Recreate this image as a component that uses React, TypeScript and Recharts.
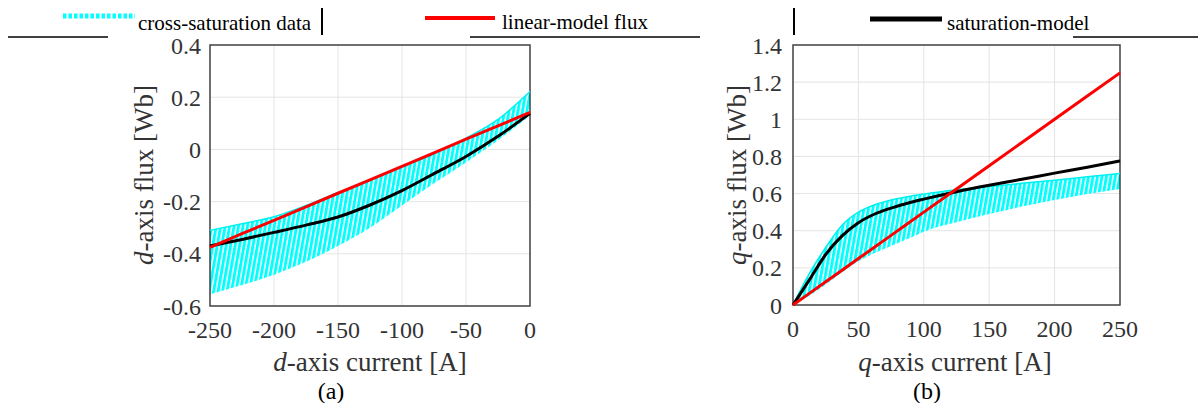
import { ComposedChart, Line, Area, XAxis, YAxis, CartesianGrid, ReferenceArea } from 'recharts'

// (a) d-axis: current [A] vs flux [Wb]
const dCurrent = [-250, -225, -200, -175, -150, -125, -100, -75, -50, -25, 0]
const dLinear = [-0.375, -0.323, -0.272, -0.22, -0.168, -0.117, -0.065, -0.013, 0.039, 0.09, 0.142]
const dSaturation = [-0.37, -0.345, -0.318, -0.29, -0.259, -0.213, -0.158, -0.093, -0.027, 0.05, 0.138]
const dCrossHigh = [-0.31, -0.285, -0.258, -0.215, -0.165, -0.118, -0.068, -0.017, 0.043, 0.115, 0.222]
const dCrossLow = [-0.555, -0.52, -0.48, -0.43, -0.37, -0.3, -0.215, -0.13, -0.05, 0.035, 0.13]
const dXTicks = [-250, -200, -150, -100, -50, 0]
const dYTicks = [-0.6, -0.4, -0.2, 0, 0.2, 0.4]

// (b) q-axis
const qCurrent = [0, 12.5, 25, 37.5, 50, 62.5, 75, 87.5, 100, 125, 150, 175, 200, 225, 250]
const qLinear = [0, 0.0625, 0.125, 0.1875, 0.25, 0.3125, 0.375, 0.4375, 0.5, 0.625, 0.75, 0.875, 1.0, 1.125, 1.25]
const qSaturation = [0, 0.135, 0.272, 0.372, 0.443, 0.49, 0.522, 0.548, 0.57, 0.61, 0.645, 0.677, 0.71, 0.742, 0.776]
const qCrossHigh = [0, 0.17, 0.31, 0.43, 0.5, 0.54, 0.565, 0.583, 0.597, 0.62, 0.638, 0.655, 0.672, 0.69, 0.708]
const qCrossLow = [0, 0.05, 0.11, 0.175, 0.235, 0.28, 0.318, 0.355, 0.395, 0.445, 0.49, 0.53, 0.565, 0.598, 0.625]
const qXTicks = [0, 50, 100, 150, 200, 250]
const qYTicks = [0, 0.2, 0.4, 0.6, 0.8, 1, 1.2, 1.4]

const legendItems = ['cross-saturation data', 'linear-model flux', 'saturation-model']

const serif = '"Liberation Serif", "Times New Roman", serif'

const buildRows = (xs: number[], lin: number[], sat: number[], lo: number[], hi: number[]) =>
  xs.map((x, i) => ({ x, lin: lin[i], sat: sat[i], hi: hi[i], band: [lo[i], hi[i]] }))

const dRows = buildRows(dCurrent, dLinear, dSaturation, dCrossLow, dCrossHigh)
const qRows = buildRows(qCurrent, qLinear, qSaturation, qCrossLow, qCrossHigh)

const renderXTick = (props: any) => (
  <text key={props.index} x={props.x} y={props.y} dy="0.71em" textAnchor="middle" fill="#333" fontFamily="Liberation Serif" fontSize={24}>
    {String(props.payload.value)}
  </text>
)

const renderYTick = (props: any) => (
  <text key={props.index} x={props.x} y={props.y} dy="0.355em" textAnchor="end" fill="#333" fontFamily="Liberation Serif" fontSize={24}>
    {String(props.payload.value)}
  </text>
)

interface PanelProps {
  rows: any[]
  xTicks: number[]
  yTicks: number[]
  width: number
  margin: { top: number; right: number; bottom: number; left: number }
  yTickMargin: number
}

function Panel({ rows, xTicks, yTicks, width, margin, yTickMargin }: PanelProps) {
  const xDomain = [xTicks[0], xTicks[xTicks.length - 1]]
  const yDomain = [yTicks[0], yTicks[yTicks.length - 1]]
  const inTick = { stroke: '#444', strokeWidth: 1 }
  return (
    <ComposedChart width={width} height={403} data={rows} margin={margin}>
      <CartesianGrid stroke="#e4e4e4" strokeWidth={1} />
      <XAxis type="number" dataKey="x" domain={xDomain} ticks={xTicks} height={40} tickLine={false} axisLine={false} tickSize={0} tickMargin={15} tick={renderXTick} />
      <YAxis type="number" domain={yDomain} ticks={yTicks} width={60} tickLine={false} axisLine={false} tickSize={0} tickMargin={yTickMargin} tick={renderYTick} />
      {/* inward tick marks on all four sides of the box */}
      <XAxis xAxisId="bIn" type="number" dataKey="x" domain={xDomain} ticks={xTicks} orientation="bottom" mirror axisLine={false} tick={false} tickSize={4} tickLine={inTick} />
      <XAxis xAxisId="tIn" type="number" dataKey="x" domain={xDomain} ticks={xTicks} orientation="top" mirror axisLine={false} tick={false} tickSize={4} tickLine={inTick} />
      <YAxis yAxisId="lIn" type="number" domain={yDomain} ticks={yTicks} orientation="left" mirror axisLine={false} tick={false} tickSize={4} tickLine={inTick} />
      <YAxis yAxisId="rIn" type="number" domain={yDomain} ticks={yTicks} orientation="right" mirror axisLine={false} tick={false} tickSize={4} tickLine={inTick} />
      <Area type="monotone" dataKey="band" fill="url(#cyanHatch)" fillOpacity={1} stroke="none" isAnimationActive={false} />
      <Line type="monotone" dataKey="hi" stroke="#00f0f0" strokeWidth={1.5} dot={false} isAnimationActive={false} />
      <Line type="monotone" dataKey="sat" stroke="#000" strokeWidth={3} dot={false} isAnimationActive={false} />
      <Line type="linear" dataKey="lin" stroke="#ff0000" strokeWidth={3} dot={false} isAnimationActive={false} />
      <ReferenceArea x1={xDomain[0]} x2={xDomain[1]} y1={yDomain[0]} y2={yDomain[1]} fill="none" fillOpacity={0} stroke="#444" strokeWidth={1.5} />
    </ComposedChart>
  )
}

const abs = (left: number, top: number): React.CSSProperties => ({ position: 'absolute', left, top })

export default function App() {
  return (
    <div style={{ position: 'absolute', left: 0, top: 0, width: 1198, height: 403, background: '#fff', fontFamily: serif, overflow: 'hidden' }}>
      <svg width={0} height={0} style={{ position: 'absolute' }}>
        <defs>
          <pattern id="cyanHatch" patternUnits="userSpaceOnUse" width={4.4} height={40} patternTransform="rotate(10)">
            <rect x={0} y={0} width={2.9} height={40} fill="#00ffff" />
          </pattern>
        </defs>
      </svg>

      {/* legend */}
      <svg width={1198} height={40} style={abs(0, 0)}>
        <line x1={63} x2={135} y1={16} y2={16} stroke="#00ffff" strokeWidth={5} strokeDasharray="3.5 2" />
        <line x1={322} x2={322} y1={8} y2={35} stroke="#000" strokeWidth={2} />
        <line x1={425} x2={495} y1={18} y2={18} stroke="#ff0000" strokeWidth={4} />
        <line x1={794} x2={794} y1={8} y2={35} stroke="#000" strokeWidth={2} />
        <line x1={870} x2={942} y1={19} y2={19} stroke="#000" strokeWidth={5} />
        <line x1={8} x2={108} y1={37} y2={37} stroke="#000" strokeWidth={1.5} />
        <line x1={470} x2={700} y1={37} y2={37} stroke="#000" strokeWidth={1.5} />
        <line x1={1073} x2={1198} y1={37} y2={37} stroke="#000" strokeWidth={1.5} />
      </svg>
      <div style={{ ...abs(138, 13), fontSize: 21, lineHeight: '21px', whiteSpace: 'nowrap' }}>{legendItems[0]}</div>
      <div style={{ ...abs(502, 12), fontSize: 21, lineHeight: '21px', whiteSpace: 'nowrap' }}>{legendItems[1]}</div>
      <div style={{ ...abs(947, 13), fontSize: 21, lineHeight: '21px', whiteSpace: 'nowrap' }}>{legendItems[2]}</div>

      <div style={abs(0, 0)}>
        <Panel rows={dRows} xTicks={dXTicks} yTicks={dYTicks} width={600} margin={{ top: 45, right: 70, bottom: 57, left: 150 }} yTickMargin={9} />
      </div>
      <div style={abs(600, 0)}>
        <Panel rows={qRows} xTicks={qXTicks} yTicks={qYTicks} width={598} margin={{ top: 45, right: 78, bottom: 58, left: 133 }} yTickMargin={11} />
      </div>

      {/* axis titles */}
      <div style={{ ...abs(370, 362), transform: 'translate(-50%, -50%)', fontSize: 27, lineHeight: '27px', color: '#333', whiteSpace: 'nowrap' }}>
        <i>d</i>-axis current [A]
      </div>
      <div style={{ ...abs(955, 362), transform: 'translate(-50%, -50%)', fontSize: 27, lineHeight: '27px', color: '#333', whiteSpace: 'nowrap' }}>
        <i>q</i>-axis current [A]
      </div>
      <div style={{ ...abs(144, 175), transform: 'translate(-50%, -50%) rotate(-90deg)', fontSize: 27, lineHeight: '27px', color: '#333', whiteSpace: 'nowrap' }}>
        <i>d</i>-axis flux [Wb]
      </div>
      <div style={{ ...abs(737, 175), transform: 'translate(-50%, -50%) rotate(-90deg)', fontSize: 27, lineHeight: '27px', color: '#333', whiteSpace: 'nowrap' }}>
        <i>q</i>-axis flux [Wb]
      </div>
      <div style={{ ...abs(331, 391), transform: 'translate(-50%, -50%)', fontSize: 24, lineHeight: '24px', color: '#000' }}>(a)</div>
      <div style={{ ...abs(927, 391), transform: 'translate(-50%, -50%)', fontSize: 24, lineHeight: '24px', color: '#000' }}>(b)</div>
    </div>
  )
}
